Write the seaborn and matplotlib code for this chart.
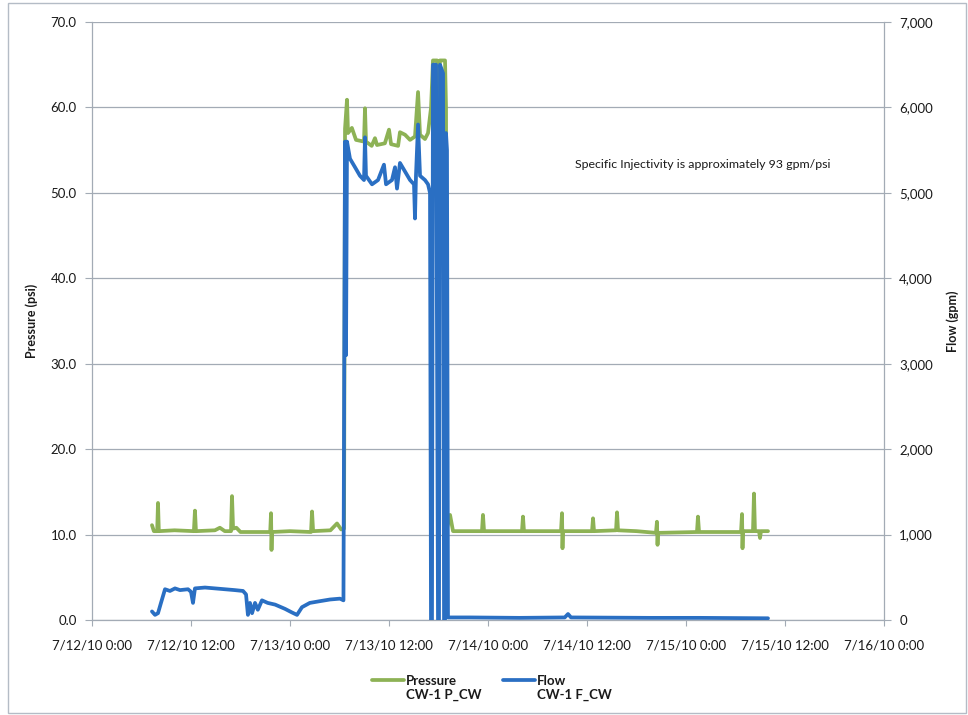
import numpy as np
import pandas as pd
import matplotlib
matplotlib.use("Agg")
import matplotlib.pyplot as plt
from matplotlib.patches import Rectangle
from matplotlib.ticker import FuncFormatter
from matplotlib.legend_handler import HandlerLine2D
import seaborn as sns

# Hours elapsed since 7/12/10 0:00 and wellhead pressure (psi)
pressure_hours = [7.27, 7.5, 7.9, 8.0, 8.1, 10.0, 12.35, 12.48, 12.6, 14.9,
                  15.5, 16.1, 16.85, 16.97, 17.1, 17.5, 18.0, 21.6, 21.7, 21.76,
                  21.82, 24.0, 26.55, 26.67, 26.8, 28.9, 29.7, 30.2, 30.55, 30.67,
                  30.91, 31.03, 31.5, 32.0, 32.97, 33.09, 33.21, 33.9, 34.3, 34.55,
                  35.5, 36.0, 36.25, 37.1, 37.33, 37.95, 38.55, 39.15, 39.52, 39.76,
                  40.36, 40.73, 41.1, 41.33, 41.82, 41.94, 42.18, 42.79, 42.91, 43.03,
                  43.4, 43.76, 47.27, 47.39, 47.52, 52.12, 52.24, 52.36, 56.85, 56.97,
                  57.03, 57.09, 60.61, 60.73, 60.85, 63.52, 63.64, 63.76, 66.0, 68.36,
                  68.48, 68.55, 68.61, 73.33, 73.45, 73.58, 76.0, 78.67, 78.79, 78.85,
                  78.91, 80.12, 80.24, 80.36, 80.85, 80.97, 81.09, 81.94]
pressure_psi = [11.1, 10.4, 10.4, 13.7, 10.4, 10.5, 10.4, 12.8, 10.4, 10.5,
                10.8, 10.4, 10.4, 14.5, 10.7, 10.8, 10.3, 10.3, 12.5, 8.2,
                10.3, 10.4, 10.3, 12.7, 10.4, 10.5, 11.3, 10.6, 10.7, 57.5,
                60.9, 57.0, 57.6, 56.2, 56.0, 59.9, 56.0, 55.5, 56.4, 55.6,
                55.8, 57.4, 55.7, 55.5, 57.1, 56.8, 56.2, 56.6, 61.8, 56.8,
                56.3, 57.0, 60.0, 65.5, 65.5, 58.0, 65.5, 65.5, 60.0, 10.8,
                12.3, 10.4, 10.4, 12.3, 10.4, 10.4, 12.1, 10.4, 10.4, 12.5,
                8.4, 10.4, 10.4, 11.9, 10.4, 10.5, 12.6, 10.5, 10.4, 10.2,
                11.5, 8.8, 10.2, 10.3, 12.1, 10.3, 10.3, 10.3, 12.4, 8.4,
                10.4, 10.4, 14.8, 10.4, 10.4, 9.6, 10.4, 10.4]

# Hours elapsed since 7/12/10 0:00 and injection flow (gpm)
flow_hours = [7.27, 7.64, 8.0, 8.36, 8.85, 9.45, 10.06, 10.67, 11.64, 12.0,
              12.24, 12.48, 13.7, 14.9, 16.1, 17.3, 18.3, 18.67, 18.9, 19.15,
              19.4, 19.76, 20.1, 20.6, 21.3, 22.2, 23.4, 24.2, 24.85, 25.45,
              26.4, 27.6, 28.85, 30.06, 30.48, 30.61, 30.67, 30.79, 30.91, 31.27,
              31.88, 32.48, 32.97, 33.09, 33.21, 33.94, 34.67, 35.39, 35.64, 36.36,
              36.73, 36.97, 37.33, 37.94, 38.55, 39.03, 39.15, 39.27, 39.52, 39.76,
              40.36, 40.73, 40.97, 41.09, 41.21, 41.33, 41.7, 41.94, 42.06, 42.18,
              42.55, 42.67, 42.79, 42.91, 43.03, 43.15, 45.8, 51.8, 57.3, 57.7,
              58.06, 67.6, 73.7, 81.94]
flow_gpm = [100, 60, 80, 200, 360, 340, 370, 350, 360, 330,
            200, 370, 380, 370, 360, 350, 340, 300, 60, 200,
            80, 200, 120, 230, 200, 180, 130, 90, 60, 150,
            200, 220, 240, 250, 230, 4000, 5600, 3100, 5600, 5400,
            5300, 5200, 5150, 5650, 5200, 5100, 5150, 5330, 5100, 5150,
            5300, 5050, 5350, 5250, 5150, 5100, 4700, 5200, 5800, 5200,
            5150, 5100, 5000, 0, 0, 6500, 6500, 0, 0, 6500,
            6400, 0, 0, 5700, 5500, 30, 30, 25, 30, 70,
            30, 25, 25, 20]

x_tick_hours = [0, 12, 24, 36, 48, 60, 72, 84, 96]
x_tick_labels = ["7/12/10 0:00", "7/12/10 12:00", "7/13/10 0:00", "7/13/10 12:00",
                 "7/14/10 0:00", "7/14/10 12:00", "7/15/10 0:00", "7/15/10 12:00",
                 "7/16/10 0:00"]
psi_ticks = [0, 10, 20, 30, 40, 50, 60, 70]
gpm_ticks = [0, 1000, 2000, 3000, 4000, 5000, 6000, 7000]
note = "Specific Injectivity is approximately 93 gpm/psi"

assert len(pressure_hours) == len(pressure_psi)
assert len(flow_hours) == len(flow_gpm)

sns.set_style("white")
plt.rcParams["font.family"] = ["Lato", "DejaVu Sans"]

GREEN = "#8db255"
BLUE = "#2a6fc3"
GRID = "#a3abb5"
TXT = "#1a1a1a"


class FirstLineHandler(HandlerLine2D):
    """Legend line drawn level with the first line of a two-line label."""

    def create_artists(self, legend, orig_handle, xdescent, ydescent,
                       width, height, fontsize, trans):
        artists = super().create_artists(legend, orig_handle, xdescent, ydescent,
                                         width, height, fontsize, trans)
        for a in artists:
            a.set_ydata(np.asarray(a.get_ydata()) + 0.6 * fontsize)
        return artists


df_p = pd.DataFrame({"hours": pressure_hours, "psi": pressure_psi})
df_f = pd.DataFrame({"hours": flow_hours, "gpm": flow_gpm})

W, H = 968, 715
fig = plt.figure(figsize=(W / 100, H / 100), dpi=100)
ax = fig.add_axes([92 / W, 95 / H, 792 / W, 598 / H])
ax2 = ax.twinx()

sns.lineplot(data=df_p, x="hours", y="psi", ax=ax, estimator=None, sort=False,
             color=GREEN, linewidth=2.7, label="Pressure\nCW-1 P_CW", legend=False)
sns.lineplot(data=df_f, x="hours", y="gpm", ax=ax2, estimator=None, sort=False,
             color=BLUE, linewidth=2.7, label="Flow\nCW-1 F_CW", legend=False)

ax.set_xlim(0, 96)
ax.set_ylim(0, 70)
ax2.set_ylim(0, 7000)
ax.set_xticks(x_tick_hours)
ax.set_xticklabels(x_tick_labels)
ax.set_yticks(psi_ticks)
ax.yaxis.set_major_formatter(FuncFormatter(lambda v, _: f"{v:.1f}"))
ax2.set_yticks(gpm_ticks)
ax2.yaxis.set_major_formatter(FuncFormatter(lambda v, _: f"{v:,.0f}"))

ax.grid(axis="y", color=GRID, linewidth=0.9)
ax.grid(axis="x", visible=False)
ax2.grid(False)

for a in (ax, ax2):
    for sp in a.spines.values():
        sp.set_color(GRID)
        sp.set_linewidth(0.9)
    a.spines["top"].set_visible(False)
ax.spines["right"].set_visible(False)
ax2.spines["left"].set_visible(False)
ax2.spines["bottom"].set_visible(False)

ax.tick_params(axis="x", direction="out", length=4, width=0.8, color=GRID,
               labelsize=9.5, labelcolor=TXT, pad=10, bottom=True)
ax.tick_params(axis="y", direction="out", length=5, width=0.8, color=GRID,
               labelsize=9.5, labelcolor=TXT, pad=6, left=True)
ax2.tick_params(axis="y", direction="out", length=5, width=0.8, color=GRID,
                labelsize=9.5, labelcolor=TXT, pad=6, right=True)

ax.set_xlabel("")
ax.set_ylabel("Pressure (psi)", fontsize=9, fontweight="bold", color=TXT)
ax.yaxis.set_label_coords((38 - 92) / 792, 0.5)
ax2.set_ylabel("Flow (gpm)", fontsize=9, fontweight="bold", color=TXT, rotation=90,
               va="center")
ax2.yaxis.set_label_coords((953 - 92) / 792, 0.5)

ax.text(58.5, 53.3, note, fontsize=8.9, color=TXT, ha="left", va="center")

handles = [ax.get_lines()[0], ax2.get_lines()[0]]
leg = fig.legend(handles=handles, labels=[h.get_label() for h in handles], loc="center",
                 bbox_to_anchor=(492 / W, 1 - 688 / H), ncol=2, frameon=False,
                 prop={"size": 9.5, "weight": "bold"}, labelcolor=TXT,
                 handlelength=2.4, handletextpad=0.2, columnspacing=1.6,
                 handler_map={h: FirstLineHandler() for h in handles})
for t in leg.get_texts():
    t.set_multialignment("left")

fig.patches.append(Rectangle((8 / W, 2 / H), 958 / W, 710 / H, transform=fig.transFigure,
                             fill=False, edgecolor="#b4bcc6", linewidth=1.0))

fig.savefig("out.png", dpi=100)
